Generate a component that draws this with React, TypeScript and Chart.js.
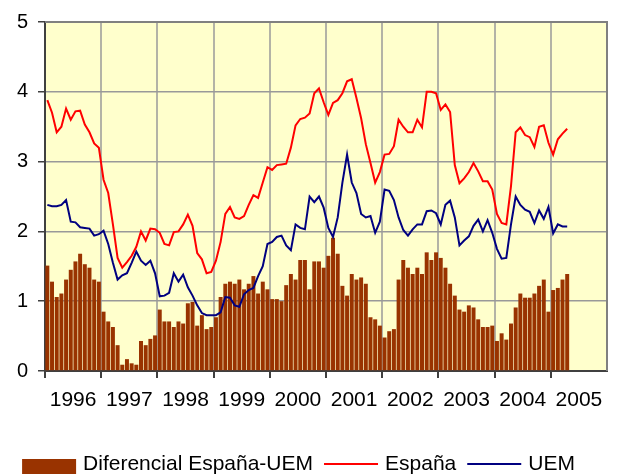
import { useEffect, useRef } from 'react';
import { Chart, registerables } from 'chart.js';

Chart.register(...registerables);

const years = ['1996', '1997', '1998', '1999', '2000', '2001', '2002', '2003', '2004', '2005'];
const monthNames = ['01', '02', '03', '04', '05', '06', '07', '08', '09', '10', '11', '12'];
const months: string[] = years.flatMap((y) => monthNames.map((m) => `${y}-${m}`));

const yTicks = [0, 1, 2, 3, 4, 5];

const diferencial = [
  1.51, 1.28, 1.06, 1.11, 1.31, 1.45, 1.57, 1.68, 1.53, 1.48, 1.31, 1.28,
  0.85, 0.71, 0.63, 0.37, 0.09, 0.17, 0.11, 0.09, 0.43, 0.37, 0.46, 0.51,
  0.88, 0.71, 0.71, 0.63, 0.71, 0.68, 0.97, 0.99, 0.65, 0.8, 0.6, 0.63,
  0.77, 1.06, 1.25, 1.28, 1.25, 1.31, 1.17, 1.25, 1.36, 1.11, 1.28, 1.17,
  1.03, 1.03, 1.0, 1.23, 1.39, 1.31, 1.59, 1.59, 1.17, 1.57, 1.57, 1.48,
  1.65, 1.91, 1.68, 1.22, 1.08, 1.39, 1.31, 1.34, 1.25, 0.77, 0.74, 0.65,
  0.48, 0.57, 0.6, 1.31, 1.59, 1.48, 1.39, 1.48, 1.39, 1.7, 1.59, 1.7,
  1.62, 1.48, 1.25, 1.08, 0.88, 0.85, 0.94, 0.91, 0.74, 0.63, 0.63, 0.65,
  0.43, 0.54, 0.45, 0.68, 0.91, 1.11, 1.05, 1.05, 1.11, 1.22, 1.31, 0.85,
  1.16, 1.19, 1.31, 1.39,
];

const espana = [
  3.88, 3.7, 3.42, 3.5, 3.76, 3.6, 3.72, 3.73, 3.53, 3.42, 3.26, 3.2,
  2.74, 2.55, 2.1, 1.62, 1.48, 1.56, 1.65, 1.78, 2.0, 1.87, 2.04, 2.03,
  1.98, 1.82, 1.8, 1.99, 2.0, 2.1, 2.24, 2.08, 1.69, 1.6, 1.4, 1.42,
  1.58, 1.85, 2.25, 2.35, 2.2, 2.18, 2.22, 2.38, 2.52, 2.48, 2.7, 2.92,
  2.88, 2.95, 2.96, 2.97, 3.2, 3.52, 3.61, 3.63, 3.69, 3.98, 4.05, 3.85,
  3.67, 3.84, 3.88, 3.98, 4.15, 4.18, 3.91, 3.62, 3.25, 2.98, 2.7, 2.85,
  3.1, 3.11, 3.22, 3.6, 3.5, 3.42, 3.42, 3.6, 3.49, 4.0, 4.0, 3.98,
  3.74, 3.82, 3.71, 2.95, 2.69, 2.76, 2.85, 2.98, 2.86, 2.72, 2.72, 2.6,
  2.25, 2.12, 2.1, 2.65, 3.42, 3.49, 3.38, 3.35, 3.21, 3.5, 3.52, 3.27,
  3.1, 3.32, 3.4, 3.47,
];

const uem = [
  2.38, 2.36, 2.36, 2.38, 2.45, 2.14, 2.13, 2.06, 2.05, 2.04, 1.94, 1.96,
  2.01, 1.82, 1.55, 1.31, 1.37, 1.4, 1.55, 1.71, 1.58, 1.52, 1.58, 1.4,
  1.07, 1.08, 1.12, 1.4, 1.28, 1.38, 1.2, 1.08, 0.94, 0.83, 0.8, 0.8,
  0.8, 0.84, 1.06, 1.05, 0.94, 0.92, 1.1, 1.16, 1.19, 1.36, 1.5, 1.82,
  1.85, 1.92, 1.94, 1.8, 1.73, 2.1, 2.05, 2.03, 2.5, 2.42, 2.5, 2.34,
  2.05, 1.92, 2.2, 2.7, 3.1, 2.7, 2.55, 2.25, 2.2, 2.22, 1.98, 2.14,
  2.6, 2.58, 2.45, 2.2, 2.02, 1.94, 2.03, 2.1, 2.1, 2.29, 2.3, 2.26,
  2.1, 2.38, 2.44, 2.2, 1.8, 1.87, 1.93, 2.08, 2.17, 2.0, 2.16, 1.98,
  1.75, 1.61, 1.62, 2.1, 2.5, 2.38, 2.31, 2.28, 2.12, 2.3, 2.18, 2.35,
  1.97, 2.1, 2.07, 2.07,
];

const FONT = '"Liberation Sans", Arial, sans-serif';

const plotPlugin = {
  id: 'plotDeco',
  beforeDraw(chart: any) {
    const { ctx, chartArea: a } = chart;
    ctx.save();
    ctx.fillStyle = '#ffffff';
    ctx.fillRect(0, 0, chart.width, chart.height);
    ctx.fillStyle = '#FFFFCC';
    ctx.fillRect(a.left, a.top, a.right - a.left, a.bottom - a.top);
    ctx.restore();
  },
  afterDatasetsDraw(chart: any) {
    const { ctx, chartArea: a } = chart;
    ctx.save();
    ctx.strokeStyle = '#808080';
    ctx.lineWidth = 2;
    ctx.beginPath();
    ctx.moveTo(a.left, a.top);
    ctx.lineTo(a.right, a.top);
    ctx.lineTo(a.right, a.bottom);
    ctx.stroke();
    ctx.restore();
  },
  afterDraw(chart: any) {
    const { ctx } = chart;
    const ds = chart.data.datasets;
    ctx.save();
    ctx.font = `21px ${FONT}`;
    ctx.textBaseline = 'middle';
    ctx.fillStyle = '#000';
    const sym = 54;
    const gapSymText = 7;
    const gapItem = 11;
    const widths = ds.map((d: any) => ctx.measureText(d.label).width);
    const total = widths.reduce((s: number, w: number) => s + w, 0) + ds.length * (sym + gapSymText) + (ds.length - 1) * gapItem;
    let x = 298.5 - total / 2;
    const cy = 464;
    ds.forEach((d: any, i: number) => {
      if (d.type === 'line') {
        ctx.strokeStyle = d.borderColor;
        ctx.lineWidth = 2;
        ctx.beginPath();
        ctx.moveTo(x, cy);
        ctx.lineTo(x + sym, cy);
        ctx.stroke();
      } else {
        ctx.fillStyle = d.backgroundColor;
        ctx.fillRect(x, cy - 5, sym, 15);
      }
      x += sym + gapSymText;
      ctx.fillStyle = '#000';
      ctx.fillText(d.label, x, cy);
      x += widths[i] + gapItem;
    });
    ctx.restore();
  },
};

export default function App() {
  const ref = useRef<HTMLCanvasElement | null>(null);

  useEffect(() => {
    document.body.style.margin = '0';
    const canvas = ref.current;
    if (!canvas) return;
    const chart = new Chart(canvas, {
      type: 'bar',
      data: {
        labels: months,
        datasets: [
          {
            type: 'bar',
            label: 'Diferencial España-UEM',
            data: diferencial,
            backgroundColor: '#993300',
            borderWidth: 0,
            barPercentage: 0.85,
            categoryPercentage: 1,
            order: 2,
          },
          {
            type: 'line',
            label: 'España',
            data: espana,
            borderColor: '#FF0000',
            backgroundColor: '#FF0000',
            borderWidth: 2,
            pointRadius: 0,
            tension: 0,
            fill: false,
            order: 1,
          },
          {
            type: 'line',
            label: 'UEM',
            data: uem,
            borderColor: '#000080',
            backgroundColor: '#000080',
            borderWidth: 2,
            pointRadius: 0,
            tension: 0,
            fill: false,
            order: 0,
          },
        ] as any,
      },
      options: {
        responsive: false,
        animation: false,
        devicePixelRatio: 1,
        layout: { padding: { top: 19, right: 16, left: 0, bottom: 0 } },
        plugins: {
          legend: { display: false },
          tooltip: { enabled: false },
        },
        scales: {
          x: {
            type: 'category',
            offset: true,
            grid: {
              offset: true,
              color: (c: any) => (c.index % 12 === 0 ? '#b3b3a6' : 'rgba(0,0,0,0)'),
              tickColor: (c: any) => (c.index % 12 === 0 ? '#404040' : 'rgba(0,0,0,0)'),
              lineWidth: 2,
              tickLength: 7,
              drawOnChartArea: true,
            },
            border: { color: '#404040', width: 2 },
            ticks: {
              autoSkip: false,
              maxRotation: 0,
              minRotation: 0,
              padding: 10,
              labelOffset: -2.34,
              color: '#000',
              font: { family: FONT, size: 21 },
              callback: (_v: any, i: number) => (i % 12 === 6 ? years[Math.floor(i / 12)] : ''),
            },
            afterFit: (s: any) => {
              s.height = 104;
            },
          },
          y: {
            min: 0,
            max: 5,
            afterBuildTicks: (s: any) => {
              s.ticks = yTicks.map((v) => ({ value: v }));
            },
            grid: {
              color: '#999999',
              lineWidth: 1.5,
              tickLength: 7,
              tickColor: '#404040',
            },
            border: { color: '#404040', width: 2 },
            ticks: {
              padding: 10,
              color: '#000',
              font: { family: FONT, size: 20 },
            },
            afterFit: (s: any) => {
              s.width = 45;
            },
          },
        },
      } as any,
      plugins: [plotPlugin],
    });
    return () => chart.destroy();
  }, []);

  return <canvas ref={ref} width={623} height={475} style={{ display: 'block' }} />;
}
